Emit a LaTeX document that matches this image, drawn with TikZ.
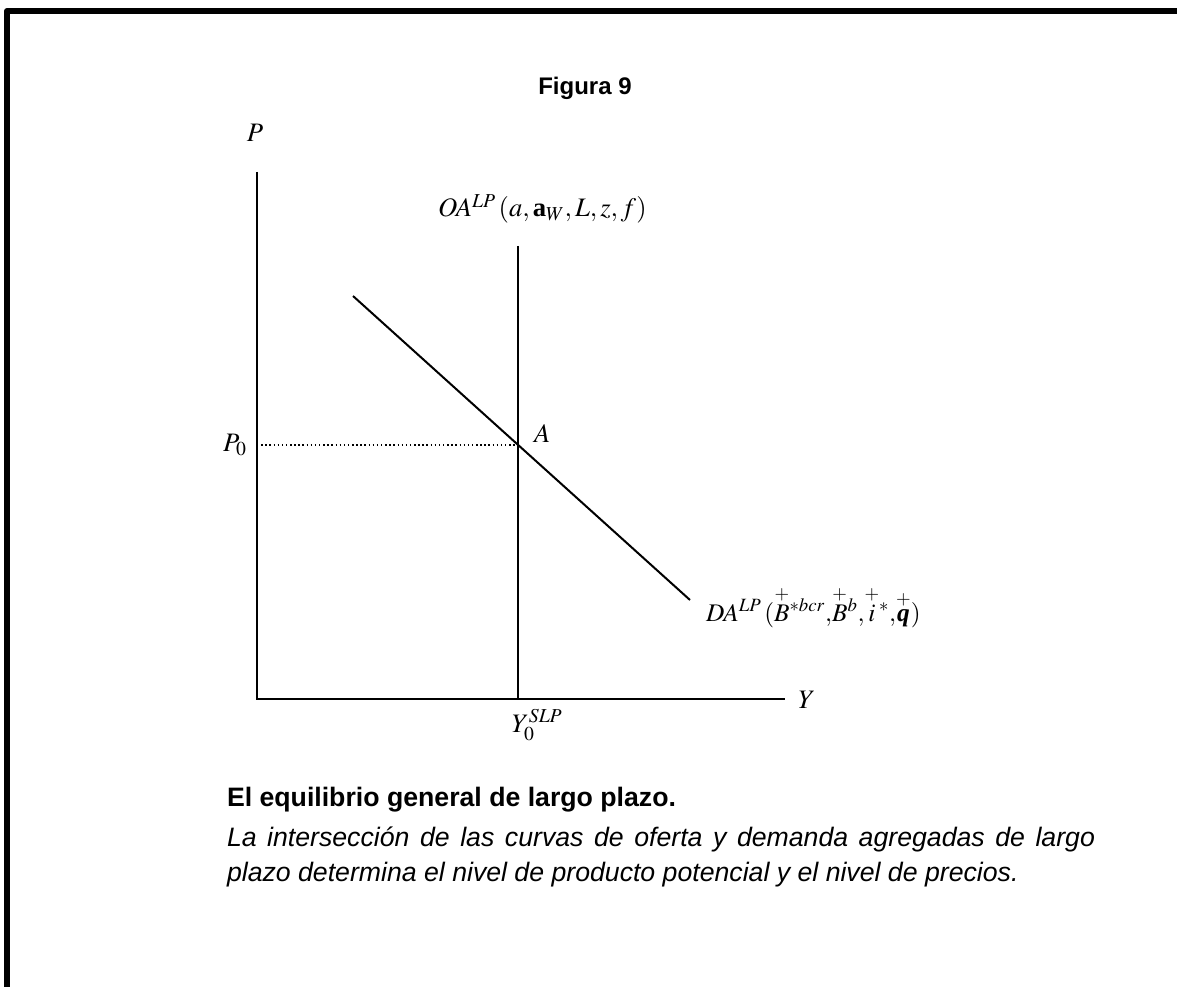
\documentclass[tikz,border=0pt]{standalone}
\usepackage{amsmath}
\usepackage{mathptmx}
\usepackage[no-math]{fontspec}
\setmainfont{Liberation Serif}
\setsansfont{Liberation Sans}
\usetikzlibrary{calc, positioning}

\begin{document}
\begin{tikzpicture}[x=0.75pt, y=-0.75pt, thick, line width=1.5pt]
        \tikzset{
            lbl/.style={inner sep=0pt, font=\fontsize{20}{24}\selectfont},
            caption/.style={inner sep=0pt, anchor=base west, font=\sffamily\fontsize{20}{26.25}\selectfont}
        }
        \useasboundingbox (0,0) rectangle (1177,987);

        % marco
        \draw[line width=4.5pt, line join=round] (7,987) -- (7,11) -- (1177,11);

        \node[inner sep=0pt, font=\sffamily\bfseries\fontsize{18}{22}\selectfont] (titulo) at (585,88) {Figura 9};

        % ejes
        \coordinate (O) at (257,699);
        \coordinate (Ptop) at (257,172);
        \coordinate (Yend) at (785,699);
        \draw (Ptop) -- (O) -- (Yend);

        \coordinate (OAtop) at (518,246);
        \coordinate (OAbot) at (518,699);
        \coordinate (DAs) at (353,296);
        \coordinate (DAe) at (690,600);
        \coordinate (A) at (intersection of OAtop--OAbot and DAs--DAe);
        \coordinate (P0) at (O |- A);

        \draw (OAtop) -- (OAbot);
        \draw (DAs) -- (DAe);
        \draw[dotted, line width=1.1pt] (P0) -- (A);

        \node[lbl] (lblP) at (255,133) {$P$};
        \node[lbl] (lblY) at (807,700) {$Y$};
        \node[lbl, left=7pt of P0] (lblP0) {$P_0$};
        \node[lbl, anchor=south west] (lblA) at ($(A)+(15,-1)$) {$A$};
        \node[lbl, anchor=base west] (lblY0) at (511,732) {$Y_0^{\mathit{SLP}}$};
        \node[lbl, anchor=base west] (lblOA) at (437,217) {$OA^{\mathit{LP}}\,(a,\textbf{a}_W,L,z,f)$};
        \node[lbl, anchor=base west, font=\fontsize{19}{23}\selectfont] (lblDA) at (705,621)
            {$DA^{\mathit{LP}}\,(\overset{+}{B}{}^{*bcr}{,}\overset{+}{B}{}^{b}{,}\overset{+}{i}{}^{*}{,}\overset{+}{\textbf{\textit{q}}})$};

        % pie de figura
        \node[caption, font=\sffamily\bfseries\fontsize{20}{26.25}\selectfont] (capTit) at (226,806) {El equilibrio general de largo plazo.};
        \node[caption, text width=651pt, align=justify] (capTxt) at (226,846)
            {\itshape La intersección de las curvas de oferta y demanda agregadas de largo plazo determina el nivel de producto potencial y el nivel de precios.};
    \end{tikzpicture}
\end{document}
